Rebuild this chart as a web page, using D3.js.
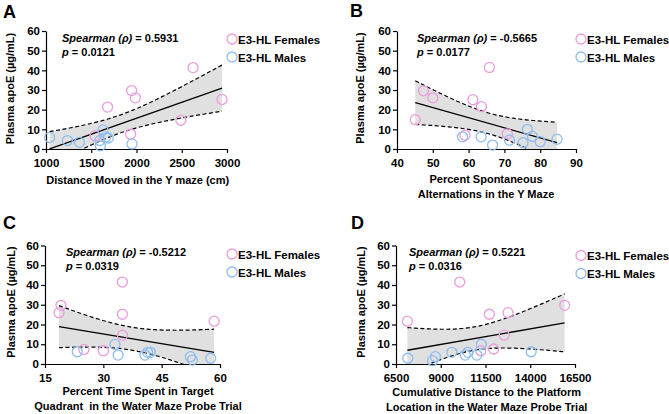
<!DOCTYPE html>
<html>
<head>
<meta charset="utf-8">
<script src="https://cdn.jsdelivr.net/npm/d3@7"></script>
<style>
  body { margin: 0; background: #fff; }
  svg text { font-family: "Liberation Sans", Arial, Helvetica, sans-serif; font-weight: bold; fill: #000; }
</style>
</head>
<body>
<svg id="chart" width="669" height="414"></svg>
<script>
// ---- data ----
var femalesA = [[2625, 41.4], [1946, 29.7], [1988, 26.0], [1680, 21.3], [2945, 25.2], [2490, 14.6], [1935, 7.5], [1541, 6.7]];
var malesA = [[1040, 5.9], [1237, 4.3], [1370, 3.4], [1629, 9.7], [1595, 4.3], [1688, 5.6], [1600, 1.6], [1950, 2.6], [1660, 6.0]];

var femalesB = [[65.8, 41.5], [47.4, 29.6], [50.0, 26.0], [61.2, 25.1], [63.6, 21.5], [45.1, 14.9], [59.0, 7.0], [70.8, 7.7]];
var malesB = [[58.3, 6.2], [63.5, 6.2], [66.7, 2.0], [71.4, 4.5], [75.2, 3.2], [76.4, 10.0], [77.8, 6.4], [80.0, 3.7], [84.7, 5.0]];

var femalesC = [[34.9, 41.5], [19.1, 29.7], [18.6, 26.0], [34.9, 25.2], [58.5, 21.7], [34.9, 14.6], [25.0, 7.4], [30.0, 6.7]];
var malesC = [[23.3, 6.2], [33.0, 9.9], [33.8, 4.5], [40.7, 4.5], [41.4, 5.9], [42.1, 5.9], [52.4, 3.7], [52.9, 2.0], [57.6, 2.9]];

var femalesD = [[10060, 41.5], [15920, 29.7], [12760, 26.0], [11715, 25.2], [7135, 21.7], [12545, 14.6], [11955, 7.6], [11235, 6.7]];
var malesD = [[7160, 2.9], [8540, 1.7], [8700, 3.7], [9620, 5.9], [10370, 4.5], [10520, 5.9], [11020, 4.5], [11270, 10.0], [14050, 6.2]];

var xTicksA = [1000, 1500, 2000, 2500, 3000];
var xTicksB = [40, 50, 60, 70, 80, 90];
var xTicksC = [15, 30, 45, 60];
var xTicksD = [6500, 9000, 11500, 14000, 16500];
var yTicks = [0, 10, 20, 30, 40, 50, 60];

var rhoText = ["0.5931", "-0.5665", "-0.5212", "0.5221"];
var pText = ["0.0121", "0.0177", "0.0319", "0.0316"];
var xTitles = [
  ["Distance Moved in the Y maze (cm)"],
  ["Percent Spontaneous", "Alternations in the Y Maze"],
  ["Percent Time Spent in Target", "Quadrant  in the Water Maze Probe Trial"],
  ["Cumulative Distance to the Platform", "Location in the Water Maze Probe Trial"]
];
var groupNames = ["E3-HL Females", "E3-HL Males"];
var panelLetters = ["A", "B", "C", "D"];

var pink = "#ec9bdc";
var blue = "#8dbdf0";

var svg = d3.select("#chart");
svg.append("rect").attr("width", 669).attr("height", 414).attr("fill", "#fff");

// layout of each panel (pixel positions)
var panels = [
  {fem: femalesA, mal: malesA, ticks: xTicksA, x0: 46, x1: 227, y0: 149, y1: 31},
  {fem: femalesB, mal: malesB, ticks: xTicksB, x0: 397, x1: 576, y0: 149, y1: 31},
  {fem: femalesC, mal: malesC, ticks: xTicksC, x0: 45, x1: 220, y0: 364, y1: 245.5},
  {fem: femalesD, mal: malesD, ticks: xTicksD, x0: 396, x1: 575, y0: 364, y1: 245.5}
];
var letterPos = [[3, 18], [350, 17], [3, 229], [351, 229]];
var statPos = [[62, 42], [417, 42], [66, 255.5], [409, 256]];
var legendPos = [[232, 39], [581, 39], [232, 254], [581, 255.5]];
var yTitlePos = [[14, 88.5], [364, 88], [14.5, 302], [365, 302]];
var xTitlePos = [[137.7, 184.3], [486, 183.3], [138, 395.3], [486.7, 396]];

// 95% CI of a least-squares line (Prism-style)
function fitLine(pts) {
  var n = pts.length;
  var mx = d3.mean(pts, function(d){ return d[0]; });
  var my = d3.mean(pts, function(d){ return d[1]; });
  var sxx = d3.sum(pts, function(d){ return (d[0] - mx) * (d[0] - mx); });
  var sxy = d3.sum(pts, function(d){ return (d[0] - mx) * (d[1] - my); });
  var b = sxy / sxx;
  var a = my - b * mx;
  var sse = d3.sum(pts, function(d){ var r = d[1] - (a + b * d[0]); return r * r; });
  var s = Math.sqrt(sse / (n - 2));
  var t = 2.1314; // t(0.975, 15)
  return {
    a: a, b: b,
    half: function(x){ return t * s * Math.sqrt(1 / n + (x - mx) * (x - mx) / sxx); }
  };
}

panels.forEach(function(p, i){
  var all = p.fem.concat(p.mal);
  var x = d3.scaleLinear().domain([p.ticks[0], p.ticks[p.ticks.length - 1]]).range([p.x0, p.x1]);
  var y = d3.scaleLinear().domain([0, 60]).range([p.y0, p.y1]);
  var g = svg.append("g");

  var clipId = "clip" + i;
  svg.append("clipPath").attr("id", clipId)
    .append("rect")
    .attr("x", p.x0).attr("y", p.y1)
    .attr("width", p.x1 - p.x0).attr("height", p.y0 - p.y1);

  var fit = fitLine(all);
  var xmin = d3.min(all, function(d){ return d[0]; });
  var xmax = d3.max(all, function(d){ return d[0]; });
  var xs = d3.range(0, 61).map(function(k){ return xmin + (xmax - xmin) * k / 60; });

  var area = d3.area()
    .x(function(d){ return x(d); })
    .y0(function(d){ return y(fit.a + fit.b * d - fit.half(d)); })
    .y1(function(d){ return y(fit.a + fit.b * d + fit.half(d)); });
  var upper = d3.line()
    .x(function(d){ return x(d); })
    .y(function(d){ return y(fit.a + fit.b * d + fit.half(d)); });
  var lower = d3.line()
    .x(function(d){ return x(d); })
    .y(function(d){ return y(fit.a + fit.b * d - fit.half(d)); });

  var band = g.append("g").attr("clip-path", "url(#" + clipId + ")");
  band.append("path").attr("d", area(xs)).attr("fill", "#e0e0e0").attr("stroke", "none");
  band.append("path").attr("d", upper(xs)).attr("fill", "none")
    .attr("stroke", "#000").attr("stroke-width", 1.2).attr("stroke-dasharray", "4,2.5");
  band.append("path").attr("d", lower(xs)).attr("fill", "none")
    .attr("stroke", "#000").attr("stroke-width", 1.2).attr("stroke-dasharray", "4,2.5");
  band.append("line")
    .attr("x1", x(xmin)).attr("y1", y(fit.a + fit.b * xmin))
    .attr("x2", x(xmax)).attr("y2", y(fit.a + fit.b * xmax))
    .attr("stroke", "#000").attr("stroke-width", 1.3);

  // axes
  var xAxis = d3.axisBottom(x).tickValues(p.ticks).tickFormat(d3.format("d"))
    .tickSize(4).tickSizeOuter(0).tickPadding(6);
  var yAxis = d3.axisLeft(y).tickValues(yTicks).tickFormat(d3.format("d"))
    .tickSize(4).tickSizeOuter(0).tickPadding(2);
  g.append("g").attr("transform", "translate(0," + p.y0 + ")").call(xAxis);
  g.append("g").attr("transform", "translate(" + p.x0 + ",0)").call(yAxis);
  g.selectAll(".domain, .tick line").attr("stroke", "#000").attr("stroke-width", 1.2);
  g.selectAll(".tick text").attr("font-size", 11.5)
    .attr("font-family", "Liberation Sans, Arial, sans-serif").attr("font-weight", "bold").attr("fill", "#000");

  // points
  g.selectAll("circle.fem").data(p.fem).enter().append("circle")
    .attr("class", "fem")
    .attr("cx", function(d){ return x(d[0]); })
    .attr("cy", function(d){ return y(d[1]); })
    .attr("r", 5).attr("fill", "none").attr("stroke", pink).attr("stroke-width", 1.3);
  g.selectAll("circle.mal").data(p.mal).enter().append("circle")
    .attr("class", "mal")
    .attr("cx", function(d){ return x(d[0]); })
    .attr("cy", function(d){ return y(d[1]); })
    .attr("r", 5).attr("fill", "none").attr("stroke", blue).attr("stroke-width", 1.3);

  // panel letter
  svg.append("text").attr("x", letterPos[i][0]).attr("y", letterPos[i][1])
    .attr("font-size", 18).text(panelLetters[i]);

  // stats
  var st = svg.append("text").attr("x", statPos[i][0]).attr("y", statPos[i][1]).attr("font-size", 11);
  st.append("tspan").attr("font-style", "italic").text("Spearman (ρ)");
  st.append("tspan").text(" = " + rhoText[i]);
  var sp = svg.append("text").attr("x", statPos[i][0]).attr("y", statPos[i][1] + 14).attr("font-size", 11);
  sp.append("tspan").attr("font-style", "italic").text("p");
  sp.append("tspan").text(" = " + pText[i]);

  // legend
  var legend = svg.selectAll(".legend" + i)
    .data(groupNames)
    .enter()
    .append("g")
    .attr("class", "legend" + i)
    .attr("transform", function(d, k){ return "translate(" + legendPos[i][0] + "," + (legendPos[i][1] + k * 18) + ")"; });
  legend.append("circle").attr("r", 5).attr("fill", "none")
    .attr("stroke", function(d, k){ return k === 0 ? pink : blue; }).attr("stroke-width", 1.3);
  legend.append("text").attr("x", 6).attr("y", 4.5).attr("font-size", 11.5)
    .text(function(d){ return d; });

  // axis titles
  svg.append("text")
    .attr("transform", "translate(" + yTitlePos[i][0] + "," + yTitlePos[i][1] + ") rotate(-90)")
    .attr("text-anchor", "middle").attr("font-size", 11)
    .text("Plasma apoE (µg/mL)");
  xTitles[i].forEach(function(line, k){
    svg.append("text")
      .attr("x", xTitlePos[i][0]).attr("y", xTitlePos[i][1] + k * 14.5)
      .attr("text-anchor", "middle").attr("font-size", 11)
      .style("white-space", "pre")
      .text(line);
  });
});
</script>
</body>
</html>
